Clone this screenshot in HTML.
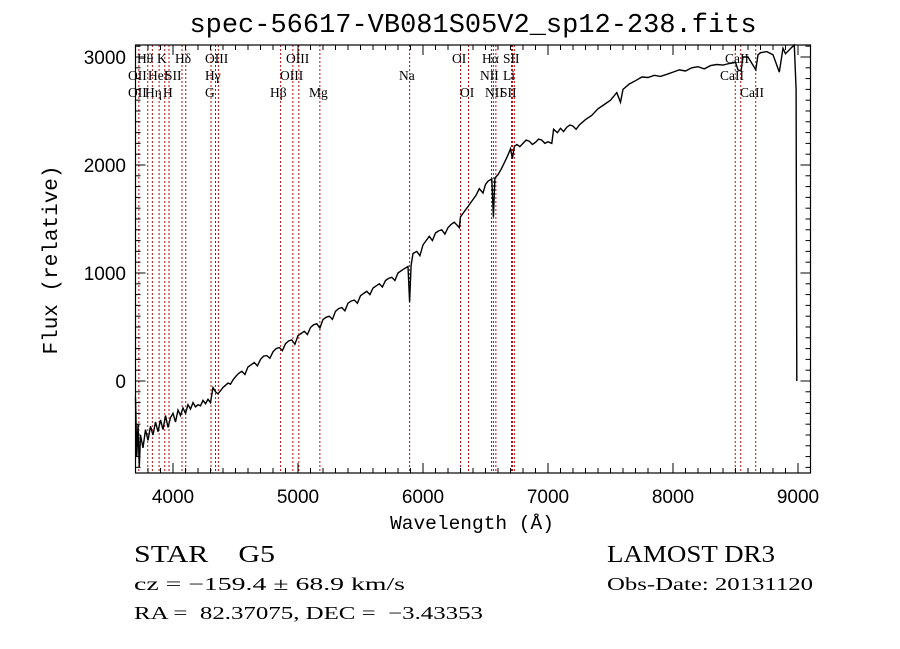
<!DOCTYPE html>
<html><head><meta charset="utf-8"><style>
html,body{margin:0;padding:0;background:#fff}
svg{display:block}
.ax{font-family:"Liberation Sans",sans-serif;font-size:19px;fill:#000}
.lb{font-family:"Liberation Serif",serif;font-size:13.5px;fill:#000}
.mono{font-family:"Liberation Mono",monospace;fill:#000}
.ser{font-family:"Liberation Serif",serif;fill:#000}
</style></head><body>
<svg id="chart" width="900" height="649" viewBox="0 0 900 649" xmlns="http://www.w3.org/2000/svg">
<rect width="900" height="649" fill="#fff"/>
<text class="mono" x="473" y="32" font-size="27" text-anchor="middle">spec-56617-VB081S05V2_sp12-238.fits</text>
<g id="lines"></g>
<g id="labels"></g>
<polyline id="spec" fill="none" stroke="#000" stroke-width="1.4"/>
<g id="axes"></g>
<text class="mono" x="472" y="529" font-size="19.5" text-anchor="middle">Wavelength (Å)</text>
<text class="mono" transform="translate(57,260) rotate(-90)" font-size="21" text-anchor="middle">Flux (relative)</text>
<text class="ser" x="134" y="562" font-size="24" textLength="141" lengthAdjust="spacingAndGlyphs">STAR &#160;&#160;&#160;G5</text>
<text class="ser" x="134" y="590" font-size="18" textLength="271" lengthAdjust="spacingAndGlyphs">cz = −159.4 ± 68.9 km/s</text>
<text class="ser" x="134" y="619" font-size="18" textLength="349" lengthAdjust="spacingAndGlyphs">RA = &#160;82.37075, DEC = &#160;−3.43353</text>
<text class="ser" x="607" y="562" font-size="24" textLength="168" lengthAdjust="spacingAndGlyphs">LAMOST DR3</text>
<text class="ser" x="607" y="590" font-size="18" textLength="206" lengthAdjust="spacingAndGlyphs">Obs-Date: 20131120</text>
</svg>
<script>
const waves=[3700,3710,3720,3730,3740,3760,3780,3800,3820,3840,3860,3880,3900,3920,3940,3960,3980,4000,4020,4040,4060,4080,4100,4120,4140,4160,4180,4200,4220,4240,4260,4280,4300,4320,4340,4360,4380,4400,4420,4440,4460,4480,4500,4525,4550,4575,4600,4625,4650,4675,4700,4725,4750,4775,4800,4825,4850,4875,4900,4925,4950,4975,5000,5025,5050,5075,5100,5125,5150,5175,5200,5225,5250,5275,5300,5325,5350,5375,5400,5425,5450,5475,5500,5525,5550,5575,5600,5625,5650,5675,5700,5725,5750,5775,5800,5825,5850,5880,5893,5905,5920,5950,5975,6000,6025,6050,6075,6100,6125,6150,6175,6200,6225,6250,6290,6300,6325,6350,6375,6400,6425,6450,6480,6500,6520,6550,6563,6575,6600,6625,6650,6675,6700,6715,6730,6750,6775,6800,6825,6850,6875,6900,6925,6950,6975,7000,7030,7045,7075,7100,7125,7150,7175,7200,7225,7250,7300,7350,7400,7450,7500,7550,7580,7600,7650,7700,7750,7800,7850,7900,7950,8000,8050,8100,8150,8200,8250,8300,8350,8400,8450,8500,8520,8545,8560,8600,8662,8680,8700,8750,8800,8850,8880,8900,8950,8970,8985,8990];
const flux=[-150,-700,-400,-800,-500,-620,-450,-550,-420,-500,-380,-470,-360,-450,-320,-430,-340,-300,-380,-270,-320,-250,-300,-220,-260,-200,-240,-220,-230,-180,-210,-170,-200,-60,-100,-120,-90,-60,-40,-20,-30,10,40,70,90,60,130,150,170,140,200,230,235,210,270,300,310,280,345,370,380,340,420,440,460,430,495,520,530,490,570,590,600,570,645,670,680,650,720,740,750,720,790,810,830,800,860,880,900,870,930,950,960,930,1000,1020,1040,1060,730,1070,1180,1200,1160,1260,1300,1340,1300,1370,1390,1400,1360,1420,1450,1470,1420,1520,1560,1600,1640,1680,1720,1780,1740,1820,1850,1870,1520,1880,1910,1960,2020,2080,2150,2060,2170,2190,2170,2200,2230,2220,2190,2210,2240,2230,2200,2215,2200,2330,2300,2340,2310,2350,2370,2360,2330,2370,2420,2460,2520,2560,2600,2670,2580,2700,2750,2780,2815,2810,2830,2820,2840,2860,2880,2870,2900,2910,2890,2920,2930,2925,2940,2950,2880,2870,3000,3000,2880,3020,3040,3050,3020,2860,3080,3030,3090,3110,2700,0];
const lineWaves=[3727,3798,3835,3889,3934,3968,4072,4102,4304,4340,4363,4861,4959,5007,5175,5893,6300,6364,6548,6563,6583,6708,6716,6731,8498,8542,8662];
const labelText=["Hθ","K","Hδ","OIII","OIII","OI","Hα","SII","CaII","OII","HeI","SII","Hγ","OIII","Na","NII","Li","CaII","OII","Hη","H","G","Hβ","Mg","OI","NII","SII","CaII"];
const labelX=[137,157,175,205,286,452,482,503,725,128,148,165,205,280,399,480,503,720,128,145,163,205,270,309,460,485,500,740];
const labelRow=[0,0,0,0,0,0,0,0,0,1,1,1,1,1,1,1,1,1,2,2,2,2,2,2,2,2,2,2];
const xTicks=[4000,5000,6000,7000,8000,9000];
const yTicks=[0,1000,2000,3000];
const X0=3700,X1=9100,Y0=-852,Y1=3111,L=135.5,R=810.5,T=45,B=473;
const sx=w=>L+(w-X0)/(X1-X0)*(R-L);
const sy=f=>B-(f-Y0)/(Y1-Y0)*(B-T);
const NS="http://www.w3.org/2000/svg";
function mk(tag,attrs,parent){const e=document.createElementNS(NS,tag);for(const k in attrs)e.setAttribute(k,attrs[k]);parent.appendChild(e);return e;}
const lg=document.getElementById('lines');
lineWaves.forEach(w=>{const l=mk('line',{x1:sx(w),x2:sx(w),y1:T,y2:B,stroke:'#b01010','stroke-width':1,'stroke-dasharray':'2,2'},lg);

});
const lab=document.getElementById('labels');
labelText.forEach((t,i)=>{const e=mk('text',{x:labelX[i],y:63+labelRow[i]*17,class:'lb'},lab);e.textContent=t;

});
document.getElementById('spec').setAttribute('points',waves.map((w,i)=>sx(w).toFixed(1)+','+Math.max(T,Math.min(B,sy(flux[i]))).toFixed(1)).join(' '));
const ax=document.getElementById('axes');
mk('rect',{x:L,y:T,width:R-L,height:B-T,fill:'none',stroke:'#000','stroke-width':1.2},ax);
for(let w=3800;w<=9100;w+=100){const x=sx(w);const maj=w%1000===0;const len=maj?10:5;
mk('line',{x1:x,x2:x,y1:B,y2:B-len,stroke:'#000'},ax);mk('line',{x1:x,x2:x,y1:T,y2:T+len,stroke:'#000'},ax);}
for(let f=-800;f<=3100;f+=100){const y=sy(f);const maj=f%1000===0;const len=maj?10:5;
mk('line',{x1:L,x2:L+len,y1:y,y2:y,stroke:'#000'},ax);mk('line',{x1:R,x2:R-len,y1:y,y2:y,stroke:'#000'},ax);}
xTicks.forEach(w=>{const t=mk('text',{x:sx(w),y:503,class:'ax','text-anchor':'middle'},ax);t.textContent=w;

});
yTicks.forEach(f=>{const t=mk('text',{x:126,y:sy(f)+7,class:'ax','text-anchor':'end'},ax);t.textContent=f;

});
</script>
</body></html>
